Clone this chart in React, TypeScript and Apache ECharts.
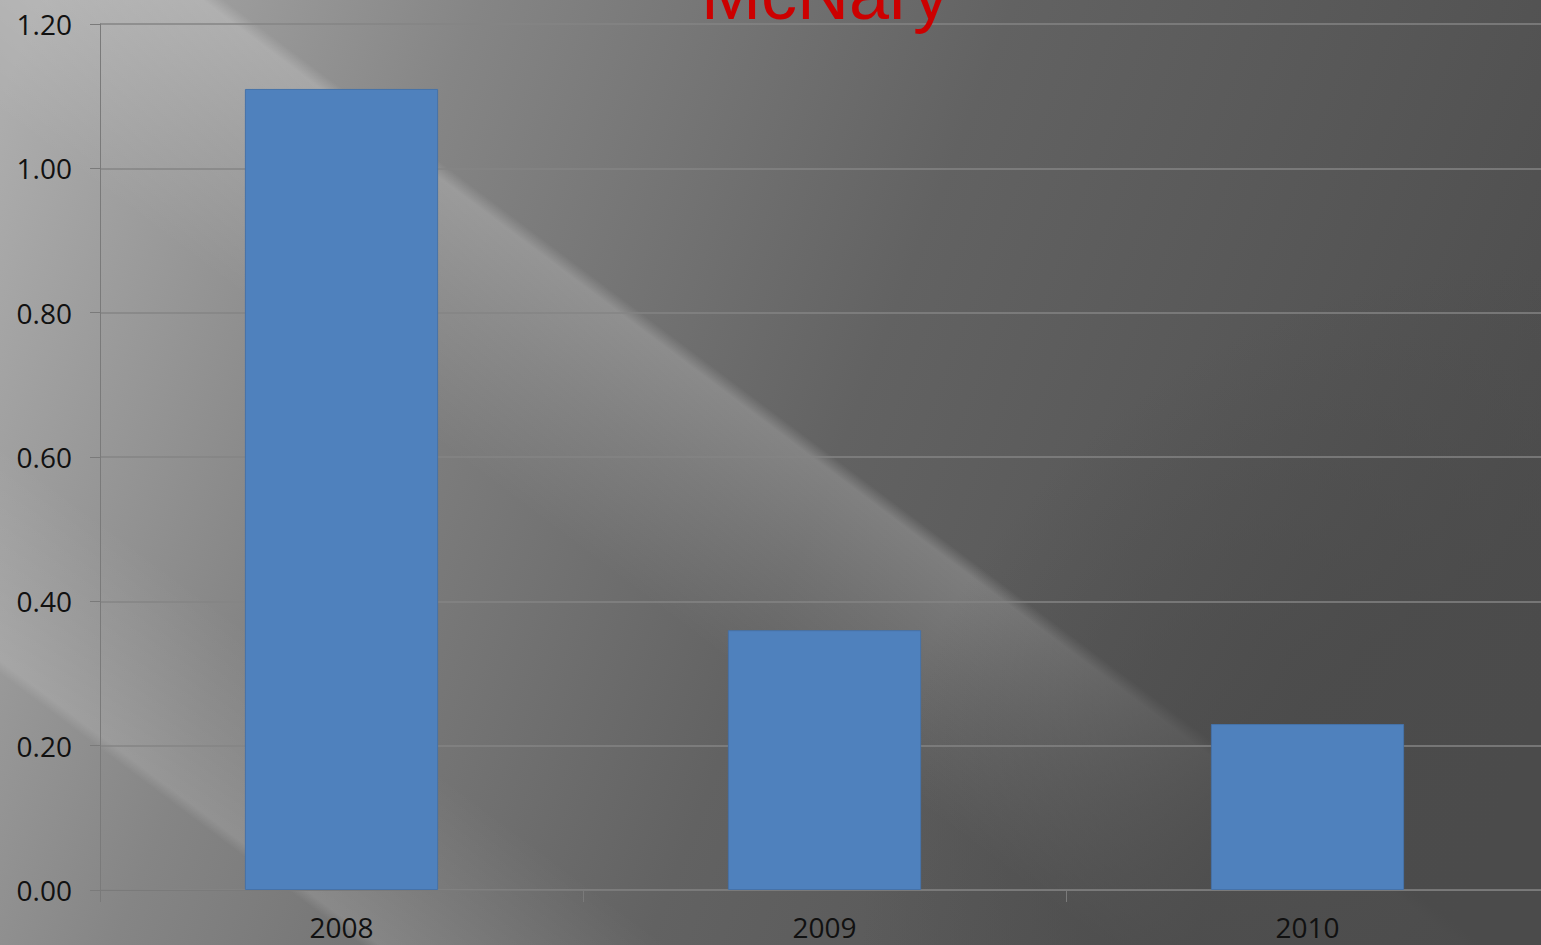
import React, { useEffect, useRef } from "react";
import * as echarts from "echarts";

const categories = ["2008", "2009", "2010"];
const values = [1.11, 0.36, 0.23];
const yTicks = { min: 0, max: 1.2, interval: 0.2 };
const titleText = "McNary";

export default function App() {
  const ref = useRef<HTMLDivElement>(null);
  useEffect(() => {
    if (!ref.current) return;
    const chart = echarts.init(ref.current, undefined, { renderer: "svg" });
    const W = 1541, H = 945;
    const streak = (ex: number, ey: number, half: number, alpha: number, side: number) => {
      const nx = 0.6 * side, ny = -0.8 * side;
      return {
        type: "rect",
        silent: true,
        z: -10,
        shape: { x: 0, y: 0, width: W, height: H },
        style: {
          fill: {
            type: "linear",
            x: ex - nx * half, y: ey - ny * half,
            x2: ex + nx * half, y2: ey + ny * half,
            global: true,
            colorStops: [
              { offset: 0, color: "rgba(255,255,255,0)" },
              { offset: 0.485, color: "rgba(255,255,255,0)" },
              { offset: 0.515, color: `rgba(255,255,255,${alpha})` },
              { offset: 0.72, color: `rgba(255,255,255,${alpha * 0.55})` },
              { offset: 1, color: "rgba(255,255,255,0)" },
            ],
          },
        },
      };
    };
    chart.setOption({
      animation: false,
      graphic: [
        {
          type: "rect",
          silent: true,
          z: -20,
          shape: { x: 0, y: 0, width: W, height: H },
          style: {
            fill: {
              type: "linear",
              x: 0, y: 100, x2: 1541, y2: 700,
              global: true,
              colorStops: [
                { offset: 0, color: "#adadad" },
                { offset: 0.25, color: "#858585" },
                { offset: 0.55, color: "#626262" },
                { offset: 1, color: "#4b4b4b" },
              ],
            },
          },
        },
        streak(440, 170, 220, 0.2, -1),
        streak(0, 667, 180, 0.13, 1),
        {
          type: "rect",
          silent: true,
          z: -9,
          shape: { x: 0, y: 0, width: W, height: H },
          style: {
            fill: {
              type: "radial",
              x: 1541, y: 945, r: 680,
              global: true,
              colorStops: [
                { offset: 0, color: "rgba(75,75,75,1)" },
                { offset: 0.5, color: "rgba(75,75,75,0.85)" },
                { offset: 1, color: "rgba(75,75,75,0)" },
              ],
            },
          },
        },
        {
          type: "text",
          silent: true,
          z: 10,
          x: 825,
          y: -6,
          style: {
            text: titleText,
            fill: "#cc0000",
            font: "72px 'Liberation Sans', Arial, sans-serif",
            align: "center",
            verticalAlign: "middle",
          },
        },
      ],
      grid: { left: 100, top: 24, width: 1449, height: 866, containLabel: false, outerBoundsMode: "none" },
      xAxis: {
        type: "category",
        data: categories,
        axisLine: { show: true, lineStyle: { color: "#7a7a7a", width: 1 } },
        axisTick: { show: true, length: 12, alignWithLabel: false, lineStyle: { color: "#7a7a7a" } },
        axisLabel: {
          color: "#111",
          fontFamily: "'Open Sans', sans-serif",
          fontSize: 28,
          margin: 23,
        },
        splitLine: { show: false },
      },
      yAxis: {
        type: "value",
        min: yTicks.min,
        max: yTicks.max,
        interval: yTicks.interval,
        axisLine: { show: true, lineStyle: { color: "#7a7a7a", width: 1 } },
        axisTick: { show: true, length: 10, lineStyle: { color: "#7a7a7a" } },
        axisLabel: {
          color: "#111",
          fontFamily: "'Open Sans', sans-serif",
          fontSize: 28,
          margin: 28,
          formatter: (v: number) => v.toFixed(2),
        },
        splitLine: { show: true, lineStyle: { color: "#858585", width: 1.5 } },
      },
      series: [
        {
          type: "bar",
          data: values,
          barWidth: "40%",
          itemStyle: { color: "#4f81bd", borderColor: "#4672a8", borderWidth: 1 },
        },
      ],
    });
    return () => chart.dispose();
  }, []);
  return (
    <div
      ref={ref}
      style={{ position: "absolute", left: 0, top: 0, width: 1541, height: 945, overflow: "hidden" }}
    />
  );
}
